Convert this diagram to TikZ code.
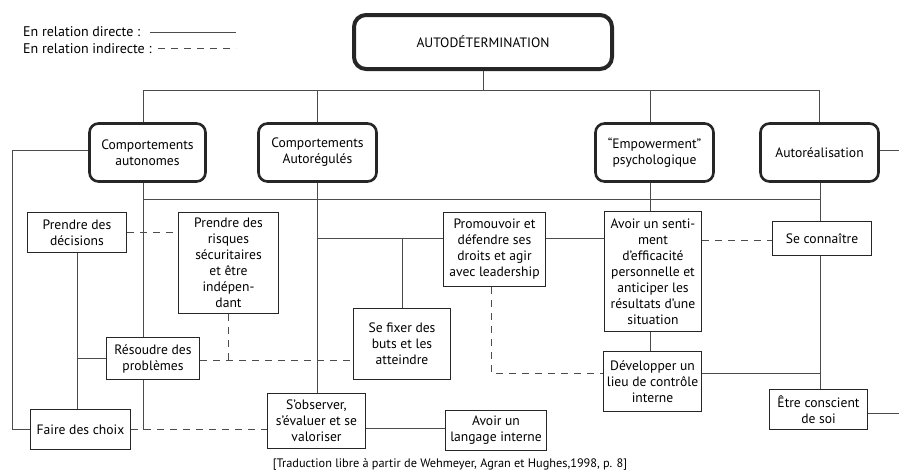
\documentclass[tikz,border=0pt]{standalone}
\usepackage{fontspec}
\setmainfont{PT Sans}
\begin{document}
\begin{tikzpicture}[x=1pt,y=-1pt,
  box/.style={draw=black!85, line width=1.1pt, inner sep=0pt, align=center, font=\fontsize{13.6}{16}\selectfont},
  mainbox/.style={box, line width=2.6pt, rounded corners=9pt},
  topbox/.style={box, line width=4pt, rounded corners=12pt},
  link/.style={draw=black!70, line width=0.9pt},
  ind/.style={link, dash pattern=on 7pt off 6pt},
  legend/.style={inner sep=0pt, font=\fontsize{14}{16}\selectfont},
  caption/.style={inner sep=0pt, font=\fontsize{12.3}{14}\selectfont},
]
\useasboundingbox (0,0) rectangle (899,472);
% legend
\node[legend, anchor=west] (l1) at (23,32) {En relation directe :};
\node[legend, anchor=west] (l2) at (23,49) {En relation indirecte :};
\coordinate (l1e) at (236,32);
\coordinate (l2e) at (236,48);
\draw[link] (l1e -| 150,0) -- (l1e);
\draw[ind] (l2e -| 158,0) -- (l2e);
% top
\node[topbox, minimum width=258, minimum height=54] (auto) at (483,42) {AUTODÉTERMINATION};
% level 2
\node[mainbox, minimum width=116, minimum height=58] (ca) at (147.5,152.5) {Comportements\\autonomes};
\node[mainbox, minimum width=118, minimum height=58] (car) at (317.5,152.5) {Comportements\\Autorégulés};
\node[mainbox, minimum width=118, minimum height=58] (emp) at (654.5,152.5) {“Empowerment”\\psychologique};
\node[mainbox, minimum width=118, minimum height=58] (autor) at (819.5,152.5) {Autoréalisation};
% level 3
\node[box, minimum width=99, minimum height=40] (dec) at (77,232.5) {Prendre des\\décisions};
\node[box, minimum width=100, minimum height=101] (risk) at (228.5,263) {Prendre des\\risques\\sécuritaires\\et être\\indépen-\\dant};
\node[box, minimum width=102, minimum height=74] (prom) at (494.5,249.5) {Promouvoir et\\défendre ses\\droits et agir\\avec leadership};
\node[box, minimum width=97, minimum height=120] (sent) at (653,271.5) {Avoir un senti-\\ment\\d’efficacité\\personnelle et\\anticiper les\\résultats d’une\\situation};
\node[box, minimum width=99, minimum height=34] (conn) at (822,238.5) {Se connaître};
\node[box, minimum width=97, minimum height=71] (fix) at (402,344) {Se fixer des\\buts et les\\atteindre};
\node[box, minimum width=93, minimum height=42] (res) at (153,358.5) {Résoudre des\\problèmes};
\node[box, minimum width=100, minimum height=40] (faire) at (80.5,429.5) {Faire des choix};
\node[box, minimum width=98, minimum height=55] (obs) at (316.5,421) {S’observer,\\s’évaluer et se\\valoriser};
\node[box, minimum width=101, minimum height=40] (lang) at (496,430.5) {Avoir un\\langage interne};
\node[box, minimum width=98, minimum height=60] (dev) at (652.5,381.5) {Développer un\\lieu de contrôle\\interne};
\node[box, minimum width=98, minimum height=40] (cons) at (818.5,409.5) {Être conscient\\de soi};
% caption
\node[caption] (cap) at (450,464) {[Traduction libre à partir de Wehmeyer, Agran et Hughes,1998, p. 8]};
% coordinates
\coordinate (u1) at (143,90); \coordinate (u2) at (317,90);
\coordinate (u3) at (650,90); \coordinate (u4) at (819,90);
\coordinate (m1) at (143,199); \coordinate (m2) at (317,199);
\coordinate (m3) at (650,199); \coordinate (m4) at (820,199);
\coordinate (L) at (12,0); \coordinate (R) at (899,0);
\coordinate (h) at (0,238); \coordinate (r) at (0,360);
\coordinate (dv) at (0,373); \coordinate (q) at (0,428);
\coordinate (pp) at (491,0);
% solid connectors
\draw[link] (u1) -- (u4);
\draw[link] (auto.south) -- (auto.south |- u1);
\draw[link] (u1) -- (u1 |- ca.north);
\draw[link] (u2) -- (u2 |- car.north);
\draw[link] (u3) -- (u3 |- emp.north);
\draw[link] (u4) -- (u4 |- autor.north);
\draw[link] (m1) -- (m4);
\draw[link] (m1 |- ca.south) -- (m1 |- res.north);
\draw[link] (m2 |- car.south) -- (m2 |- obs.north);
\draw[link] (m3 |- emp.south) -- (m3 |- sent.north);
\draw[link] (m3 |- sent.south) -- (m3 |- dev.north);
\draw[link] (m4 |- autor.south) -- (m4 |- conn.north);
\draw[link] (m4 |- conn.south) -- (m4 |- cons.north);
\draw[link] (dev.east |- dv) -- (m4 |- dv);
\draw[link] (ca.west |- 0,150) -- (L |- 0,150) -- (L |- faire.west) -- (faire.west);
\draw[link] (dec.south) -- (dec.south |- faire.north);
\draw[link] (res.west) -- (res.west -| dec.south);
\draw[link] (m2 |- h) -- (prom.west |- h);
\draw[link] (prom.east |- h) -- (sent.west |- h);
\draw[link] (fix.north) -- (fix.north |- h);
\draw[link] (obs.east |- q) -- (lang.west |- q);
\draw[link] (cons.east |- 0,413) -- (R |- 0,413);
\draw[link] (autor.east |- 0,150) -- (R |- 0,150);
\draw[link] (m1 |- res.south) -- (m1 |- faire.east);
% indirect connectors
\draw[ind] (dec.east) -- (risk.west |- dec.east);
\draw[ind] (res.east |- r) -- (fix.west |- r);
\draw[ind] (risk.south) -- (risk.south |- r);
\draw[ind] (faire.east) -- (obs.west |- faire.east);
\draw[ind] (pp |- prom.south) -- (pp |- dv) -- (dev.west |- dv);
\draw[ind] (sent.east |- 0,240) -- (conn.west |- 0,240);
\end{tikzpicture}
\end{document}
